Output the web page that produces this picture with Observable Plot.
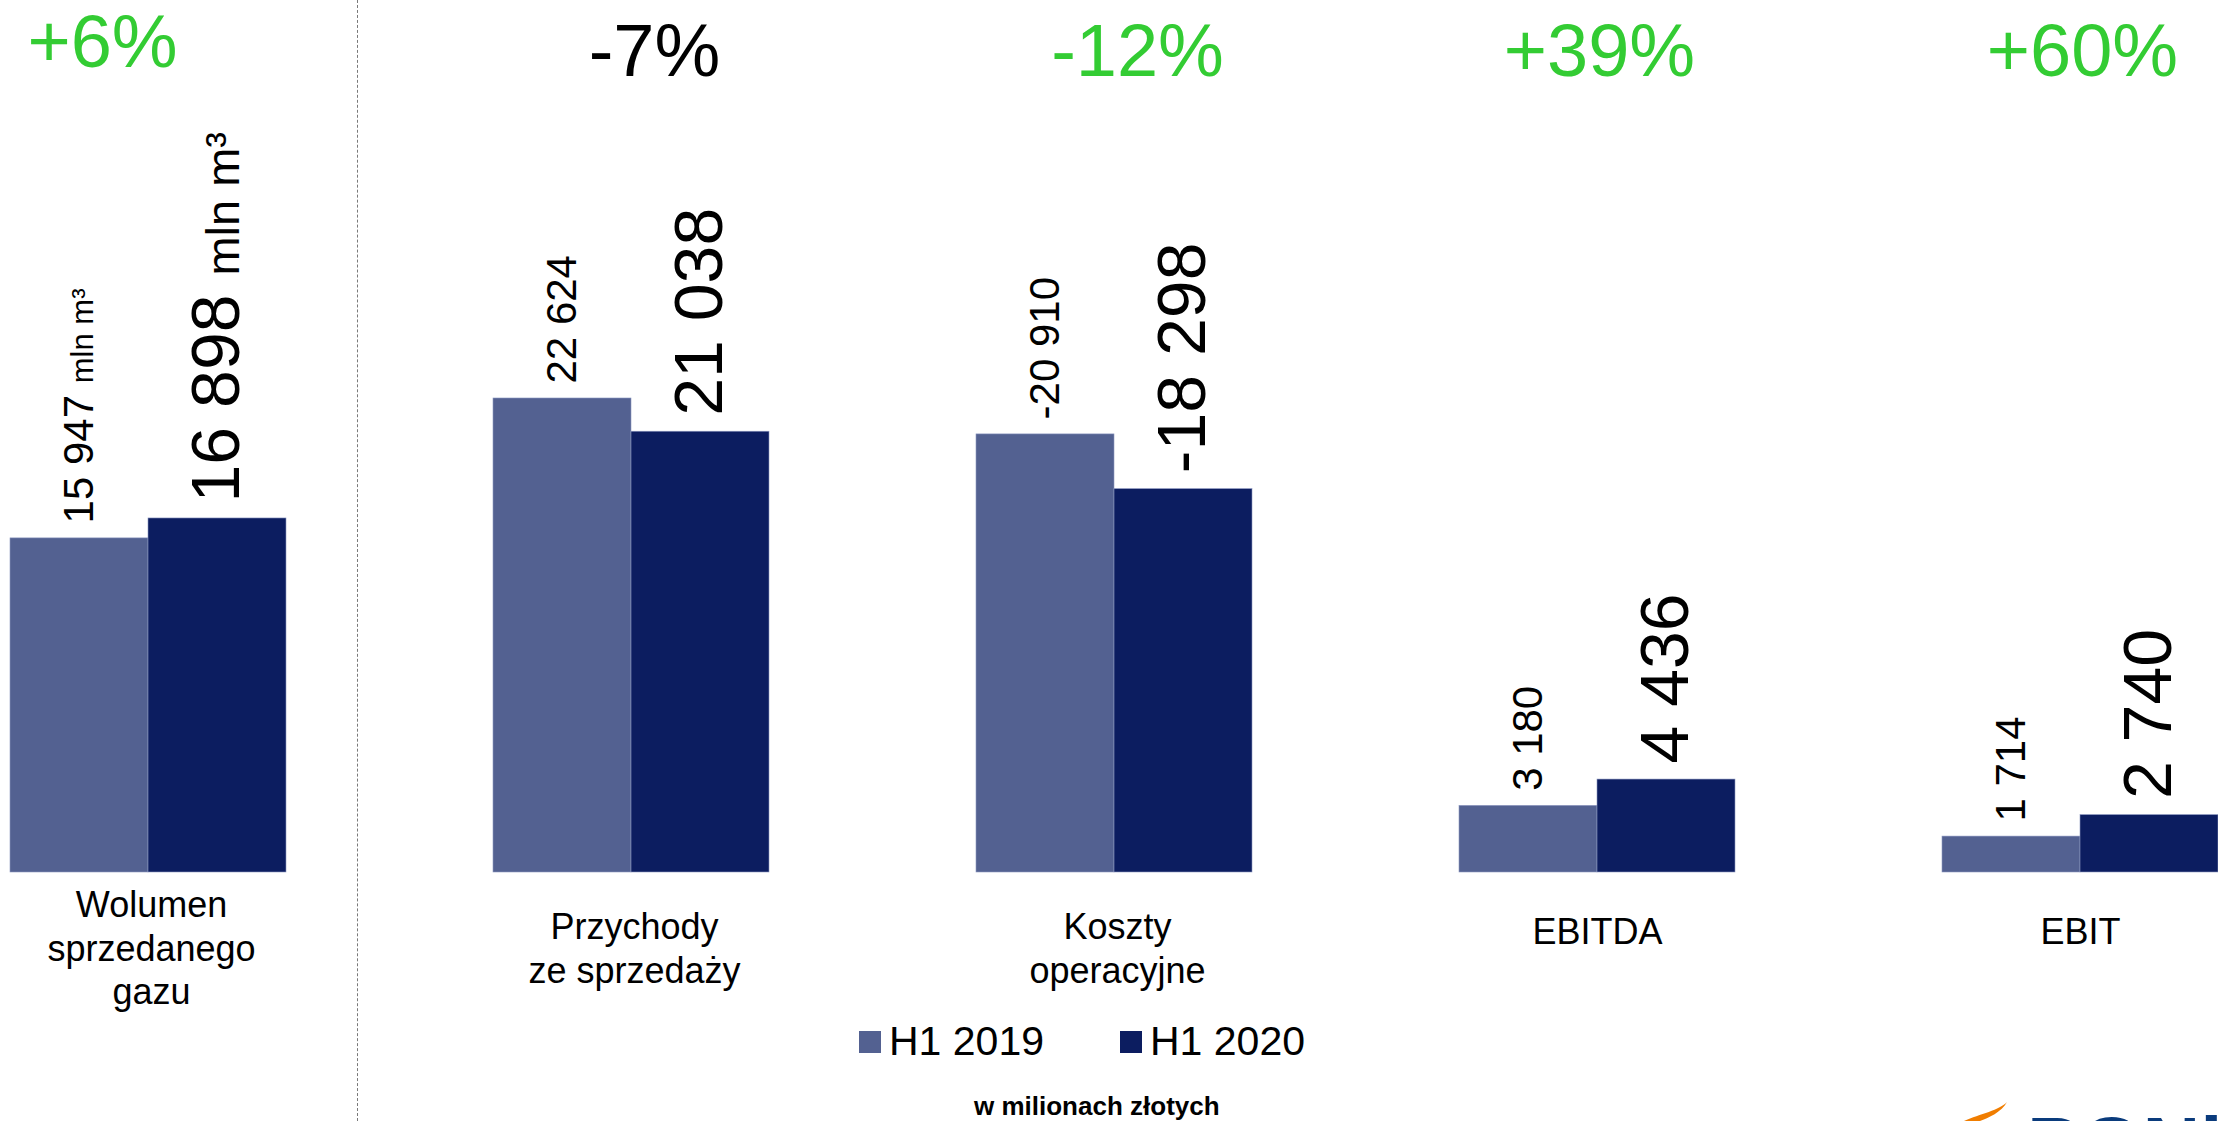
<!DOCTYPE html>
<html>
<head>
<meta charset="utf-8">
<script src="https://cdn.jsdelivr.net/npm/d3@7"></script>
<script src="https://cdn.jsdelivr.net/npm/@observablehq/plot@0.6"></script>
<style>
  html, body { margin: 0; padding: 0; background: #fff; overflow: hidden; }
  #page { position: relative; width: 2218px; height: 1121px; font-family: "Liberation Sans", Arial, sans-serif; }
  #chart { position: absolute; left: 0; top: 0; }
  #divider { position: absolute; left: 357px; top: 0; width: 0; height: 1121px; border-left: 1.5px dashed #7a7a7a; }
  .leg-sw { position: absolute; width: 22px; height: 22px; }
  .leg-tx { position: absolute; font-size: 41px; line-height: 1; color: #000; white-space: nowrap; }
  #caption { position: absolute; left: 974px; top: 1093px; font-size: 26px; font-weight: bold; line-height: 1; white-space: nowrap; }
  #logo { position: absolute; left: 1950px; top: 1090px; }
</style>
</head>
<body>
<div id="page">
  <div id="chart"></div>
  <div id="divider"></div>
  <div id="legend"></div>
  <div id="caption">w milionach złotych</div>
  <svg id="logo" width="268" height="31" viewBox="0 0 268 31">
    <path d="M14,31 C30,24 50,20 57,12 C52,22 38,28 30,31 Z" fill="#f07d00"/>
    <text x="77" y="83" font-size="80" font-weight="bold" fill="#0a3b7c" font-family="Liberation Sans, Arial, sans-serif">PGNiG</text>
  </svg>
</div>
<script>
// ---- data ----
const categories = ["Wolumen\nsprzedanego\ngazu", "Przychody\nze sprzedaży", "Koszty\noperacyjne", "EBITDA", "EBIT"];
const series = ["H1 2019", "H1 2020"];
const valuesH1_2019 = [15947, 22624, -20910, 3180, 1714];
const valuesH1_2020 = [16898, 21038, -18298, 4436, 2740];
const units = ["mln m³", "", "", "", ""];
const changes = ["+6%", "-7%", "-12%", "+39%", "+60%"];
const favourable = [true, false, true, true, true];

// ---- styles ----
const colors = ["#536191", "#0c1d60"];
const green = "#33cc33";
const fmt = d3.formatLocale({decimal: ",", thousands: " ", grouping: [3], currency: ["", ""], minus: "-"}).format(",d");

const rows = categories.flatMap((c, i) => [
  {cat: c, series: series[0], value: valuesH1_2019[i], unit: units[i]},
  {cat: c, series: series[1], value: valuesH1_2020[i], unit: units[i]}
]);
const label = d => fmt(d.value) + (d.unit ? " " + d.unit : "");
const changeRows = categories.map((c, i) => ({cat: c, change: changes[i], good: favourable[i], i}));
const multi = categories.filter(c => c.includes("\n"));
const single = categories.filter(c => !c.includes("\n"));

const changeStyle = {fx: "cat", text: "change", frameAnchor: "top", lineAnchor: "middle", fontSize: 74, fill: d => d.good ? green : "#000"};

const chart = Plot.plot({
  width: 2218,
  height: 1020,
  marginTop: 0,
  marginBottom: 148,
  marginLeft: 10,
  marginRight: 0,
  style: {fontFamily: "'Liberation Sans', Arial, sans-serif", background: "transparent", overflow: "visible", color: "#000"},
  fx: {domain: categories, paddingInner: 0.4286, paddingOuter: 0, axis: null},
  x: {domain: series, padding: 0, axis: null},
  y: {domain: [0, 41620], axis: null},
  color: {domain: series, range: colors},
  marks: [
    Plot.barY(rows, {fx: "cat", x: "series", y: d => Math.abs(d.value), fill: "series", inset: 0, stroke: "#8c97c0", strokeWidth: 0.6}),
    Plot.text(rows.filter(d => d.series === series[0]), {
      fx: "cat", x: "series", y: d => Math.abs(d.value), text: label,
      rotate: -90, textAnchor: "start", lineAnchor: "middle", fontSize: 42, dy: -15, fill: "#000"
    }),
    Plot.text(rows.filter(d => d.series === series[1]), {
      fx: "cat", x: "series", y: d => Math.abs(d.value), text: label,
      rotate: -90, textAnchor: "start", lineAnchor: "middle", fontSize: 68, dy: -16, fill: "#000"
    }),
    Plot.text(multi, {fx: d => d, text: d => d, frameAnchor: "bottom", lineAnchor: "middle", dx: 3, dy: 74, fontSize: 36, lineHeight: 1.22, fill: "#000"}),
    Plot.text(single, {fx: d => d, text: d => d, frameAnchor: "bottom", lineAnchor: "middle", dy: 60, fontSize: 36, fill: "#000"}),
    Plot.text(changeRows.filter(d => d.i === 0), {...changeStyle, dx: -46, dy: 43}),
    Plot.text(changeRows.filter(d => d.i === 1 || d.i === 2), {...changeStyle, dx: 23, dy: 52}),
    Plot.text(changeRows.filter(d => d.i >= 3), {...changeStyle, dx: 2, dy: 52})
  ]
});
document.getElementById("chart").appendChild(chart);

// smaller unit text inside value labels
chart.querySelectorAll("text").forEach(t => {
  const s = t.textContent;
  const k = s.indexOf(" mln");
  if (k < 0) return;
  const g = t.closest("g[font-size]");
  const fs = g ? parseFloat(g.getAttribute("font-size")) : 42;
  t.textContent = "";
  t.appendChild(document.createTextNode(s.slice(0, k + 1)));
  const ts = document.createElementNS("http://www.w3.org/2000/svg", "tspan");
  ts.setAttribute("font-size", fs > 50 ? 47 : 31);
  ts.textContent = s.slice(k + 1);
  t.appendChild(ts);
});

// legend (HTML, below the plot area)
const legend = document.getElementById("legend");
const legPos = [{sw: 859, tx: 889}, {sw: 1120, tx: 1150}];
series.forEach((s, i) => {
  const sw = document.createElement("div");
  sw.className = "leg-sw";
  sw.style.left = legPos[i].sw + "px";
  sw.style.top = "1031px";
  sw.style.background = colors[i];
  legend.appendChild(sw);
  const tx = document.createElement("div");
  tx.className = "leg-tx";
  tx.style.left = legPos[i].tx + "px";
  tx.style.top = "1021px";
  tx.textContent = s;
  legend.appendChild(tx);
});
</script>
</body>
</html>
